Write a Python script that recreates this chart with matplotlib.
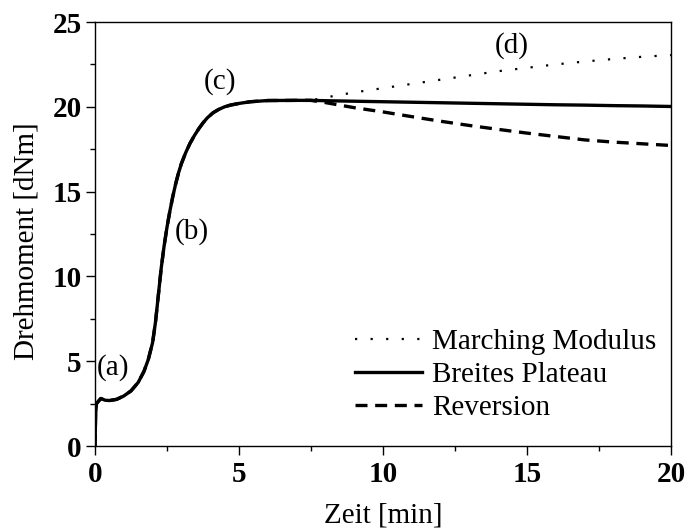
import matplotlib

matplotlib.use("Agg")
import matplotlib.pyplot as plt
import numpy as np
from matplotlib.ticker import MultipleLocator


# shared cure curve up to the plateau (time in min, torque in dNm)
TIME_RISE = [0, 0.02, 0.05, 0.1, 0.2, 0.35, 0.5, 0.75, 1.0, 1.25, 1.5, 1.7,
             1.85, 2.0, 2.1, 2.2, 2.3, 2.4, 2.5, 2.6, 2.7, 2.8, 2.9, 3.0,
             3.15, 3.3, 3.45, 3.6, 3.75, 3.9, 4.1, 4.3, 4.5, 4.7, 5.0, 5.4,
             6.0, 7.0, 7.5]
TORQUE_RISE = [0, 1.8, 2.5, 2.6, 2.8, 2.7, 2.68, 2.75, 2.95, 3.25, 3.75, 4.4,
               5.1, 6.1, 7.3, 8.9, 10.5, 11.8, 12.9, 13.85, 14.7, 15.45,
               16.1, 16.65, 17.3, 17.85, 18.3, 18.7, 19.05, 19.35, 19.65,
               19.85, 20.0, 20.1, 20.2, 20.3, 20.37, 20.38, 20.38]

# behaviour after the plateau
TIME_TAIL = [8, 9, 10, 11, 12, 13, 14, 15, 16, 17, 18, 19, 20]
TORQUE_MARCHING = [20.55, 20.85, 21.1, 21.35, 21.6, 21.85, 22.1, 22.3, 22.5,
                   22.67, 22.82, 22.95, 23.05]
TORQUE_PLATEAU = [20.36, 20.33, 20.3, 20.27, 20.24, 20.21, 20.18, 20.15,
                  20.12, 20.1, 20.07, 20.05, 20.02]
TORQUE_REVERSION = [20.25, 19.95, 19.7, 19.42, 19.15, 18.9, 18.67, 18.45,
                    18.25, 18.05, 17.92, 17.82, 17.72]

SERIES_LABELS = ["Marching Modulus", "Breites Plateau", "Reversion"]

ANNOTATIONS = [("(a)", 0.63, 4.6), ("(b)", 3.36, 12.64),
               ("(c)", 4.34, 21.5), ("(d)", 14.47, 23.64)]


def main():
    plt.rcParams["font.family"] = ["Liberation Serif", "DejaVu Serif"]
    plt.rcParams["font.size"] = 21

    fig = plt.figure(figsize=(6.86, 5.28), dpi=100)
    ax = fig.add_axes([0.1385, 0.1553, 0.8395, 0.803])

    t_all = np.concatenate([TIME_RISE, TIME_TAIL])
    march = np.concatenate([TORQUE_RISE, TORQUE_MARCHING])
    plateau = np.concatenate([TORQUE_RISE, TORQUE_PLATEAU])
    reversion = np.concatenate([TORQUE_RISE, TORQUE_REVERSION])

    h_march, = ax.plot(t_all, march, color="black", lw=1.6,
                       linestyle=(0, (1, 6)), label=SERIES_LABELS[0])
    h_rev, = ax.plot(t_all, reversion, color="black", lw=2.4,
                     linestyle=(0, (3.6, 2.3)), label=SERIES_LABELS[2])
    h_plat, = ax.plot(t_all, plateau, color="black", lw=2.4,
                      label=SERIES_LABELS[1])

    for text, x, y in ANNOTATIONS:
        ax.text(x, y, text, ha="center", va="center", fontsize=21)

    ax.set_xlim(0, 20)
    ax.set_ylim(0, 25)
    ax.xaxis.set_major_locator(MultipleLocator(5))
    ax.xaxis.set_minor_locator(MultipleLocator(2.5))
    ax.yaxis.set_major_locator(MultipleLocator(5))
    ax.yaxis.set_minor_locator(MultipleLocator(2.5))
    ax.tick_params(which="major", direction="out", length=6.5, width=1.0,
                   top=False, right=False)
    ax.tick_params(which="minor", direction="out", length=3.6, width=1.0,
                   top=False, right=False)
    ax.tick_params(axis="x", pad=4)
    ax.tick_params(axis="y", pad=3)
    for lab in ax.get_xticklabels() + ax.get_yticklabels():
        lab.set_fontweight("bold")
    for spine in ax.spines.values():
        spine.set_linewidth(1.0)

    ax.set_xlabel("Zeit [min]")
    ax.set_ylabel("Drehmoment [dNm]")
    ax.xaxis.set_label_coords(0.5, -0.134)
    ax.yaxis.set_label_coords(-0.097, 0.484)

    ax.legend(handles=[h_march, h_plat, h_rev], loc="upper left",
              bbox_to_anchor=(355 / 686, 1 - 329 / 528),
              bbox_transform=fig.transFigure, frameon=False, borderpad=0,
              borderaxespad=0, handlelength=2.3, handletextpad=0.35,
              labelspacing=0.22)

    fig.savefig("out.png", dpi=100)
    plt.close(fig)


if __name__ == "__main__":
    main()
